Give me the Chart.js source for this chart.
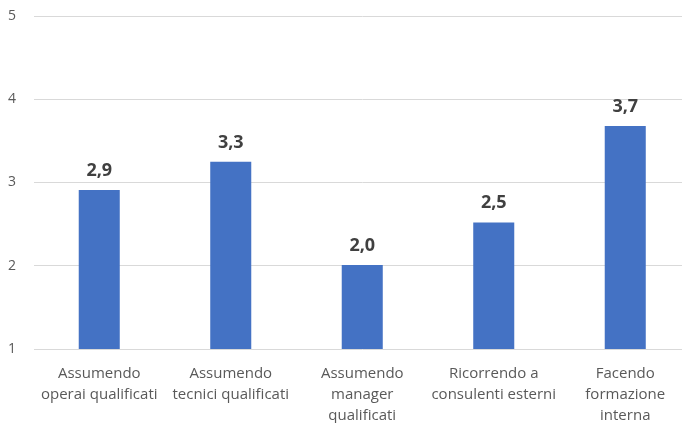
<!DOCTYPE html>
<html>
<head>
<meta charset="utf-8">
<script src="https://cdn.jsdelivr.net/npm/chart.js@4/dist/chart.umd.min.js"></script>
<style>
  html, body { margin: 0; padding: 0; background: #fff; overflow: hidden; }
  #wrap { width: 692px; height: 423px; position: relative; }
</style>
</head>
<body>
<div id="wrap"><canvas id="myChart"></canvas></div>
<script>
// categories (multi-line labels) and average scores
const categories = [
  ['Assumendo', 'operai qualificati'],
  ['Assumendo', 'tecnici qualificati'],
  ['Assumendo', 'manager', 'qualificati'],
  ['Ricorrendo a', 'consulenti esterni'],
  ['Facendo', 'formazione', 'interna']
];
const scores = [2.91, 3.25, 2.01, 2.52, 3.68];
const yTicks = [1, 2, 3, 4, 5];

const fmt = v => v.toFixed(1).replace('.', ',');
const FONT = '"Open Sans", "Liberation Sans", sans-serif';

// writes the value above each bar
const valueLabels = {
  id: 'valueLabels',
  afterDatasetsDraw(chart) {
    const ctx = chart.ctx;
    const meta = chart.getDatasetMeta(0);
    ctx.save();
    ctx.font = 'bold 18px ' + FONT;
    ctx.fillStyle = '#404040';
    ctx.textAlign = 'center';
    ctx.textBaseline = 'alphabetic';
    meta.data.forEach((bar, i) => {
      ctx.fillText(fmt(scores[i]), bar.x, bar.y - 14);
    });
    ctx.restore();
  }
};

const ctx = document.getElementById('myChart');

new Chart(ctx, {
  type: 'bar',
  data: {
    labels: categories,
    datasets: [{
      data: scores,
      backgroundColor: '#4472C4',
      barPercentage: 0.312,
      categoryPercentage: 1
    }]
  },
  options: {
    responsive: true,
    maintainAspectRatio: false,
    animation: false,
    layout: { padding: { top: 16, left: 0, right: 1, bottom: 0 } },
    plugins: {
      legend: { display: false },
      tooltip: { enabled: false }
    },
    scales: {
      x: {
        grid: { display: false, drawTicks: false },
        border: { display: false },
        afterFit: axis => {
          axis.height = 74;
          axis.paddingLeft = 0;
          axis.paddingRight = 0;
        },
        ticks: {
          color: '#595959',
          font: { family: FONT, size: 15, lineHeight: 1.4 },
          padding: 14,
          maxRotation: 0,
          autoSkip: false
        }
      },
      y: {
        min: yTicks[0],
        max: yTicks[yTicks.length - 1],
        afterBuildTicks: axis => { axis.ticks = yTicks.map(v => ({ value: v })); },
        afterFit: axis => {
          axis.width = 33.5;
          axis.paddingTop = 0;
          axis.paddingBottom = 0;
        },
        grid: { color: '#d9d9d9', lineWidth: 1, drawTicks: false },
        border: { display: false },
        ticks: {
          color: '#595959',
          font: { family: FONT, size: 14 },
          padding: 17.5
        }
      }
    }
  },
  plugins: [valueLabels]
});
</script>
</body>
</html>
